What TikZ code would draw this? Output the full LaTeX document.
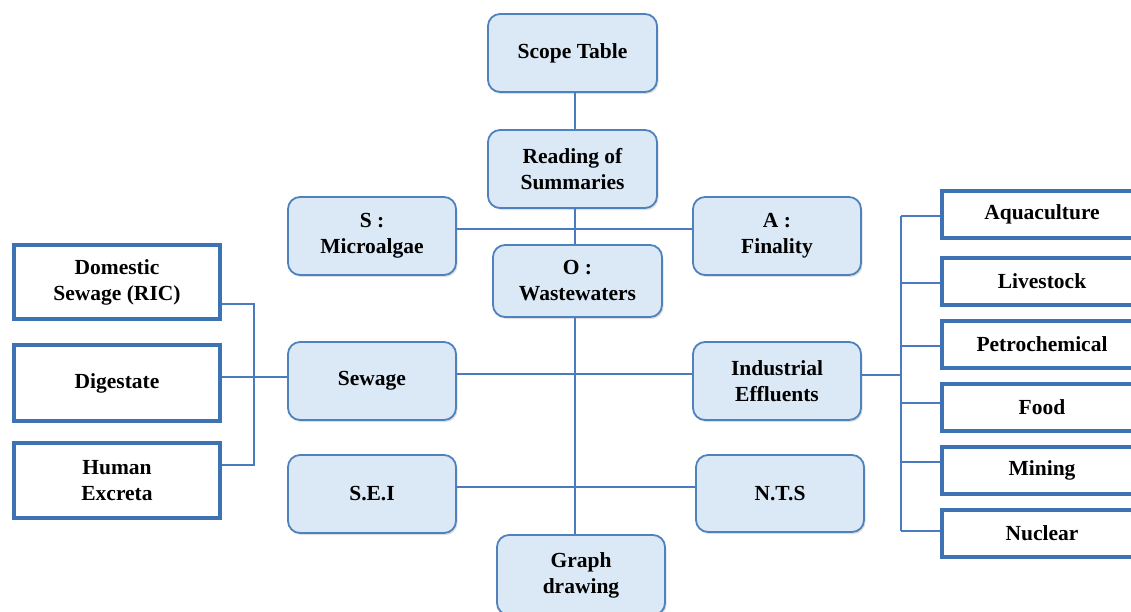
\documentclass[tikz,border=0pt]{standalone}
\usepackage{fontspec}
\setmainfont{Liberation Serif}
\usetikzlibrary{shadows}
\definecolor{boxfill}{HTML}{DBE8F5}
\definecolor{boxline}{HTML}{4F81BD}
\definecolor{thickline}{HTML}{3D72B4}
\definecolor{conn}{HTML}{4A7BC0}
\tikzset{
  rbox/.style={draw=boxline, line width=1.8pt, fill=boxfill, rounded corners=12pt,
    minimum width=168pt, minimum height=78pt, align=center, inner sep=0pt,
    drop shadow={opacity=0.25, shadow xshift=1.5pt, shadow yshift=-2pt},
    font=\fontsize{21.5}{26}\selectfont\bfseries},
  wbox/.style={draw=thickline, line width=4pt, fill=white,
    minimum width=206pt, minimum height=74pt, align=center, inner sep=0pt,
    font=\fontsize{21.5}{26}\selectfont\bfseries},
  ibox/.style={draw=thickline, line width=4pt, fill=white,
    minimum width=200pt, minimum height=47pt, align=center, inner sep=0pt,
    font=\fontsize{21.5}{26}\selectfont\bfseries},
  link/.style={draw=conn, line width=1.6pt}
}
\begin{document}
\begin{tikzpicture}[x=1pt,y=-1pt]
\useasboundingbox (0,0) rectangle (1131,611);
\clip (0,0) rectangle (1131,611);
\coordinate (vx) at (575,0);
\coordinate (h1) at (0,229);
\coordinate (h2) at (0,374);
\coordinate (h3) at (0,487);
\coordinate (lbus) at (254,0);
\coordinate (rbus) at (901,0);
\node[rbox, minimum width=169pt] (scope) at (572.5,53) {Scope Table};
\node[rbox, minimum width=168pt, minimum height=80pt] (graph) at (581,575) {Graph\\drawing};
\draw[link] (scope.south -| vx) -- (graph.north -| vx);
\node[rbox, minimum width=169pt] (reading) at (572.5,169) {Reading of\\Summaries};
\node[rbox] (smicro) at (372,236) {S :\\Microalgae};
\node[rbox] (afin) at (777,236) {A :\\Finality};
\node[rbox, minimum width=169pt, minimum height=72pt] (owaste) at (577.5,281) {O :\\Wastewaters};
\node[rbox] (sewage) at (372,381) {Sewage};
\node[rbox] (indus) at (777,381) {Industrial\\Effluents};
\node[rbox] (sei) at (372,494) {S.E.I};
\node[rbox, minimum height=77pt] (nts) at (780,493.5) {N.T.S};
\draw[link] (smicro.east |- h1) -- (afin.west |- h1);
\draw[link] (reading.south -| vx) -- (owaste.north -| vx);
\draw[link] (sewage.east |- h2) -- (indus.west |- h2);
\draw[link] (sei.east |- h3) -- (nts.west |- h3);
% left boxes
\node[wbox] (domestic) at (117,282) {Domestic\\Sewage (RIC)};
\node[wbox, minimum height=76pt] (digest) at (117,383) {Digestate};
\node[wbox, minimum height=75pt] (human) at (117,480.5) {Human\\Excreta};
\coordinate (d1) at (222,304);
\coordinate (d2) at (222,465);
\draw[link] (domestic.east |- d1) -| (lbus |- d1) -- (lbus |- d2) -- (human.east |- d2);
\draw[link] (digest.east |- 0,377) -- (sewage.west |- 0,377);
% right boxes
\node[ibox] (aqua) at (1042,214) {Aquaculture};
\node[ibox] (live) at (1042,281.5) {Livestock};
\node[ibox] (petro) at (1042,344) {Petrochemical};
\node[ibox] (food) at (1042,407.5) {Food};
\node[ibox] (mining) at (1042,470.5) {Mining};
\node[ibox] (nuclear) at (1042,533) {Nuclear};
\draw[link] (rbus |- 0,216) -- (rbus |- 0,531);
\draw[link] (indus.east |- 0,375) -- (rbus |- 0,375);
\draw[link] (rbus |- 0,216) -- (aqua.west |- 0,216);
\draw[link] (rbus |- 0,283) -- (live.west |- 0,283);
\draw[link] (rbus |- 0,346) -- (petro.west |- 0,346);
\draw[link] (rbus |- 0,403) -- (food.west |- 0,403);
\draw[link] (rbus |- 0,462) -- (mining.west |- 0,462);
\draw[link] (rbus |- 0,531) -- (nuclear.west |- 0,531);
\end{tikzpicture}
\end{document}
